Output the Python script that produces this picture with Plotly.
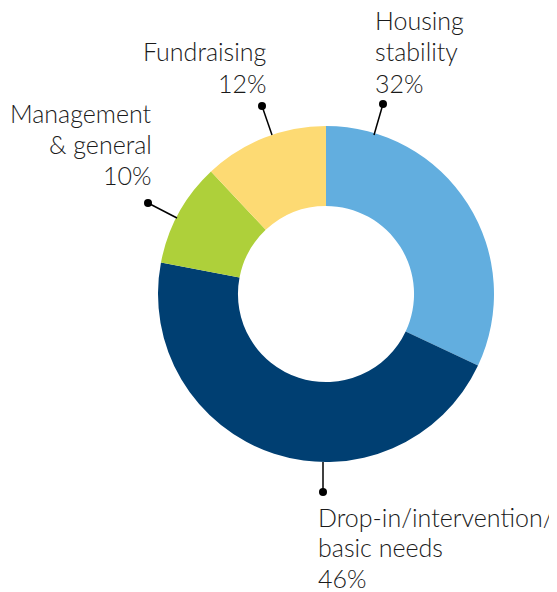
import plotly.graph_objects as go

labels = ["Housing stability", "Drop-in/intervention/basic needs", "Management & general", "Fundraising"]
values = [32, 46, 10, 12]
colors = ["#62AEDF", "#003F72", "#AED03A", "#FDDA73"]
label_lines = [["Housing", "stability", "32%"],
               ["Drop-in/intervention/", "basic needs", "46%"],
               ["Management", "&amp; general", "10%"],
               ["Fundraising", "12%"]]

OFF = 8  # browser body margin
W, H = 557 - OFF, 592 - OFF
def px(x): return (x - OFF) / W
def py(y): return 1 - (y - OFF) / H

fig = go.Figure(go.Pie(
    labels=labels, values=values, sort=False, direction="clockwise", rotation=0,
    hole=0.524, marker=dict(colors=colors, line=dict(width=0)),
    textinfo="none", hoverinfo="label+percent", showlegend=False,
    domain=dict(x=[px(158), px(494)], y=[py(463), py(125)]),
))

FS = 25
FONT = dict(family="Lato", size=FS, color="#1a1a1a", weight=300)
# label placements: (x, baselines, xanchor)
placements = [
    (373, [29, 60, 92], "left"),
    (316, [526, 556, 587], "left"),
    (154, [122, 153, 184], "right"),
    (269, [60, 92], "right"),
]
for lines, (x, bases, xa) in zip(label_lines, placements):
    for t, b in zip(lines, bases):
        fig.add_annotation(text=t, x=px(x), y=py(b - 0.36 * FS), xref="paper", yref="paper",
                           xanchor=xa, yanchor="middle", align=xa, showarrow=False, font=FONT)

# leader lines: (dot x, dot y, end x, end y)
leaders = [(383, 104, 374, 135), (323, 492, 323, 462), (148, 203, 177, 218), (262, 106, 272, 135)]
for dx, dy, ex, ey in leaders:
    fig.add_shape(type="line", x0=px(dx), y0=py(dy), x1=px(ex), y1=py(ey),
                  xref="paper", yref="paper", line=dict(color="black", width=1.5))
    r = 4
    fig.add_shape(type="circle", x0=px(dx - r), x1=px(dx + r), y0=py(dy + r), y1=py(dy - r),
                  xref="paper", yref="paper", fillcolor="black", line=dict(width=0))

fig.update_layout(width=W, height=H, margin=dict(l=0, r=0, t=0, b=0),
                  paper_bgcolor="white", plot_bgcolor="white")
fig.write_html("out.html")
